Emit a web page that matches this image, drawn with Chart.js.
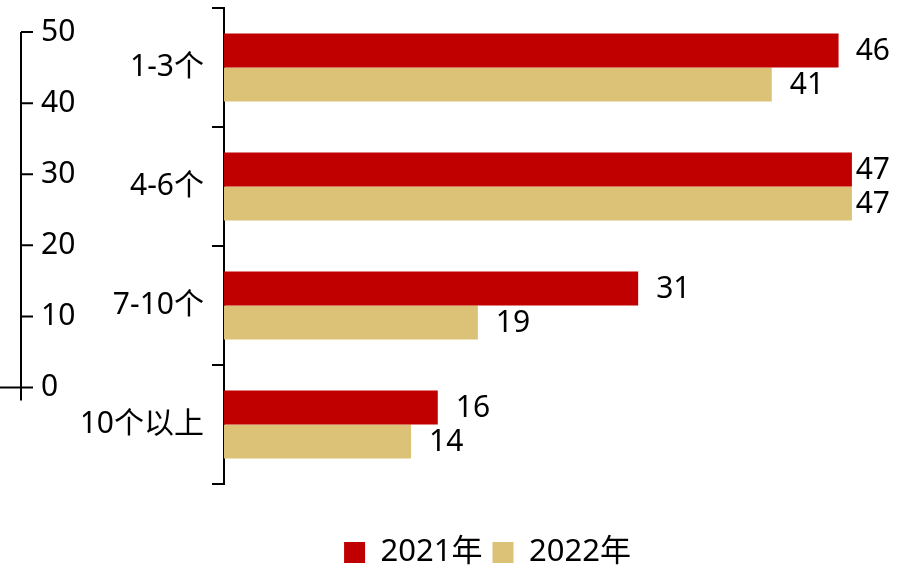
<!DOCTYPE html>
<html>
<head>
<meta charset="utf-8">
<script src="https://cdn.jsdelivr.net/npm/chart.js@4.4.1/dist/chart.umd.min.js"></script>
<style>
  html, body { margin: 0; padding: 0; background: #fff; }
  #wrap { width: 904px; height: 570px; }
</style>
</head>
<body>
<div id="wrap"><canvas id="bars"></canvas></div>
<script>
    // data
    var categories = ['1-3个', '4-6个', '7-10个', '10个以上'];
    var seriesNames = ['2021年', '2022年'];
    var values2021 = [46, 47, 31, 16];
    var values2022 = [41, 47, 19, 14];
    var sideTicks = [0, 10, 20, 30, 40, 50];

    var FONT = '"Noto Sans", "Noto Sans CJK SC", sans-serif';
    var RED = '#C00000';
    var SAND = '#DBC276';

    // the stray 0-50 axis on the far left, drawn from the y2 scale
    var sideAxis = {
        id: 'sideAxis',
        afterDraw: function(chart) {
            var s = chart.scales.y2;
            var ctx = chart.ctx;
            var x = 21;
            var top = s.getPixelForValue(sideTicks[sideTicks.length - 1]);
            var zero = s.getPixelForValue(sideTicks[0]);
            ctx.save();
            ctx.strokeStyle = '#000';
            ctx.lineWidth = 2;
            ctx.beginPath();
            ctx.moveTo(x, top);
            ctx.lineTo(x, zero + 13);
            ctx.moveTo(0, zero);
            ctx.lineTo(x, zero);
            sideTicks.forEach(function(t) {
                var y = s.getPixelForValue(t);
                ctx.moveTo(x, y);
                ctx.lineTo(x + 12, y);
            });
            ctx.stroke();
            ctx.fillStyle = '#000';
            ctx.font = '30px ' + FONT;
            ctx.textAlign = 'left';
            ctx.textBaseline = 'middle';
            sideTicks.forEach(function(t) {
                ctx.fillText(String(t), x + 20, s.getPixelForValue(t));
            });
            ctx.restore();
        }
    };

    // value labels at the bar ends
    var barValues = {
        id: 'barValues',
        afterDatasetsDraw: function(chart) {
            var ctx = chart.ctx;
            ctx.save();
            ctx.fillStyle = '#000';
            ctx.font = '30px ' + FONT;
            ctx.textAlign = 'left';
            ctx.textBaseline = 'middle';
            chart.data.datasets.forEach(function(ds, i) {
                chart.getDatasetMeta(i).data.forEach(function(bar, j) {
                    var txt = String(ds.data[j]);
                    var w = ctx.measureText(txt).width;
                    var x = Math.min(bar.x + 18, chart.width - 14 - w);
                    ctx.fillText(txt, x, bar.y + 1);
                });
            });
            ctx.restore();
        }
    };

    var ctxB = document.getElementById('bars').getContext('2d');
    var barChart = new Chart(ctxB, {
        type: 'bar',
        data: {
            labels: categories,
            datasets: [{
                label: seriesNames[0],
                data: values2021,
                backgroundColor: RED,
                categoryPercentage: 0.572,
                barPercentage: 1
            }, {
                label: seriesNames[1],
                data: values2022,
                backgroundColor: SAND,
                categoryPercentage: 0.572,
                barPercentage: 1
            }]
        },
        options: {
            indexAxis: 'y',
            responsive: true,
            maintainAspectRatio: false,
            animation: false,
            layout: {
                // left padding only nudges the legend to sit where it does in the picture
                padding: { top: 8, right: 12, bottom: -8, left: 83 }
            },
            plugins: {
                tooltip: { enabled: false },
                legend: {
                    position: 'bottom',
                    labels: {
                        boxWidth: 21,
                        boxHeight: 21,
                        padding: 10,
                        color: '#000',
                        font: { family: FONT, size: 31 }
                    }
                }
            },
            scales: {
                x: {
                    // kept only as a blank strip between bars and legend
                    min: 0,
                    max: 50,
                    grid: { display: false },
                    border: { display: false },
                    ticks: { display: false },
                    afterFit: function(scale) { scale.height = 43; }
                },
                y: {
                    position: 'left',
                    afterFit: function(scale) {
                        scale.width = 141;
                        scale.paddingTop = 0;
                        scale.paddingBottom = 0;
                    },
                    border: { display: true, color: '#000', width: 2 },
                    grid: {
                        offset: true,
                        drawOnChartArea: false,
                        tickLength: 12,
                        color: '#000',
                        lineWidth: 2
                    },
                    ticks: {
                        color: '#000',
                        padding: 8,
                        font: { family: FONT, size: 30 }
                    }
                },
                y2: {
                    type: 'linear',
                    position: 'left',
                    offset: false,
                    min: -13.57,
                    max: 53.38,
                    grid: { display: false, offset: false },
                    border: { display: false },
                    ticks: { display: false },
                    afterFit: function(scale) {
                        scale.width = 0;
                        scale.paddingTop = 0;
                        scale.paddingBottom = 0;
                    }
                }
            }
        },
        plugins: [sideAxis, barValues]
    });
</script>
</body>
</html>
